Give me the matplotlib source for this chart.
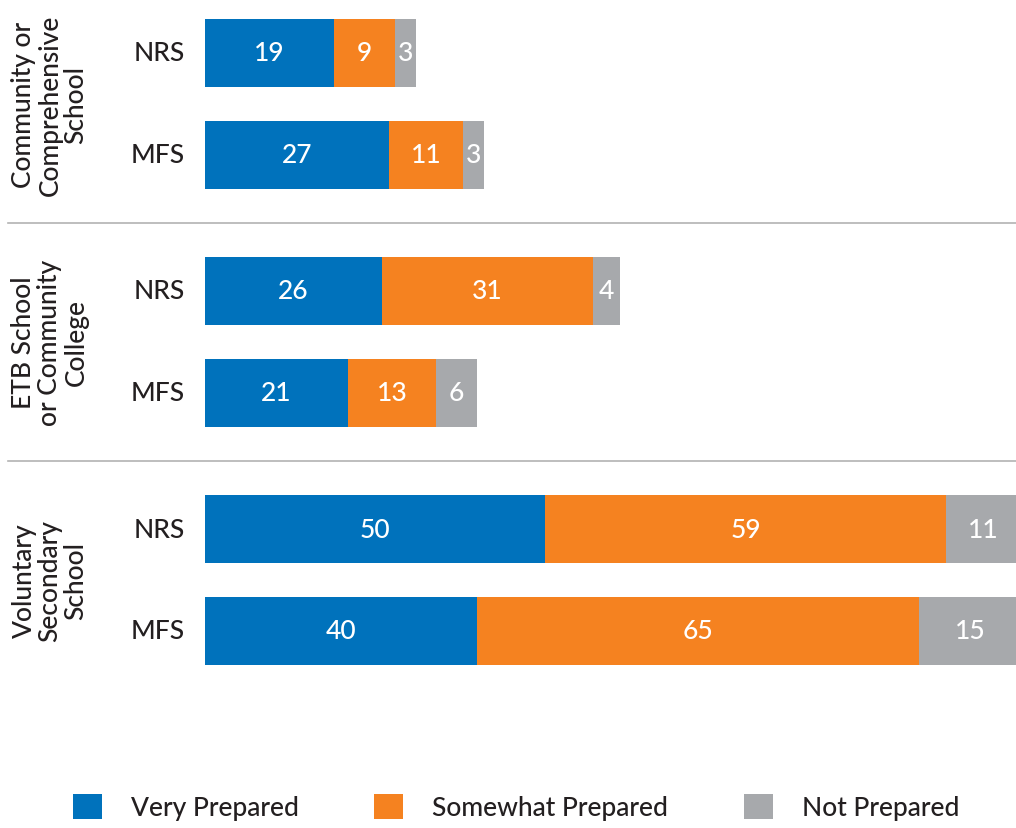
import numpy as np
import matplotlib.pyplot as plt
from matplotlib.patches import Patch

plt.rcParams['font.family'] = ['Lato', 'DejaVu Sans']

groups = ["Community or\nComprehensive\nSchool", "ETB School\nor Community\nCollege", "Voluntary\nSecondary\nSchool"]
rows = ["NRS", "MFS"]
series = ["Very Prepared", "Somewhat Prepared", "Not Prepared"]
very = [19, 27, 26, 21, 50, 40]
somewhat = [9, 11, 31, 13, 59, 65]
notp = [3, 3, 4, 6, 11, 15]
colors = ["#0072BC", "#F58220", "#A7A9AC"]
textc = "#231F20"
fs = 19
fw = "medium"

W, H = 1016, 829
fig = plt.figure(figsize=(W / 100, H / 100), dpi=100)
ax = fig.add_axes([205 / W, 1 - 700 / H, 1 - 205 / W, 700 / H])

gstep = 238 / 102
ypos = np.array([g * gstep + r for g in range(len(groups)) for r in range(len(rows))])
bh = 68 / 102

left = np.zeros(len(ypos))
for vals, col in zip([very, somewhat, notp], colors):
    vals = np.array(vals)
    ax.barh(ypos, vals, left=left, height=bh, color=col, linewidth=0)
    for y, l, v in zip(ypos, left, vals):
        ax.text(l + v / 2, y, str(v), ha="center", va="center", color="white",
                fontsize=fs, fontweight=fw)
    left = left + vals

ax.set_xlim(0, (W - 205) / 6.8)
ax.set_ylim((700 - 54) / 102, -54 / 102)
ax.axis("off")

for i, r in enumerate(ypos):
    ax.text(-20 / 6.8, r, rows[i % 2], ha="right", va="center", fontsize=fs,
            fontweight=fw, color=textc)

for g, name in enumerate(groups):
    yc = g * gstep + 0.5
    ax.text(-155 / 6.8, yc, name, ha="center", va="center", rotation=90,
            fontsize=fs, fontweight=fw, color=textc, linespacing=1.05)
    if g < len(groups) - 1:
        ax.axhline(yc + (224 - 105) / 102, xmin=(8 - 205) / (W - 205), xmax=1,
                   color="#B3B3B3", linewidth=1.2, clip_on=False)

handles = [Patch(facecolor=c, edgecolor="none") for c in colors]
fig.legend(handles, series, loc="center", bbox_to_anchor=(0.508, 1 - 808 / H), ncol=3,
           frameon=False, prop={"size": fs, "weight": fw}, handlelength=1.1,
           handleheight=1.1, handletextpad=1.1, columnspacing=2.85, labelcolor=textc)

fig.savefig("out.png", dpi=100)
